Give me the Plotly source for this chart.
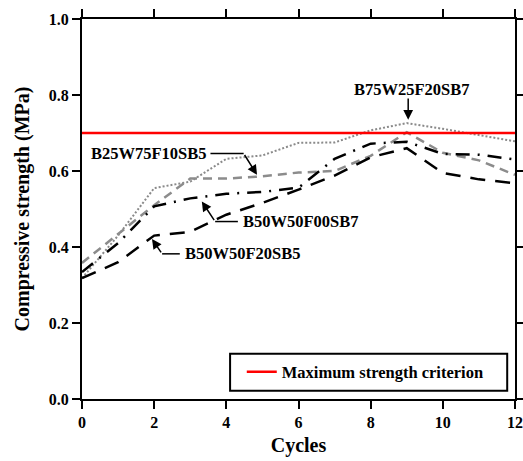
import plotly.graph_objects as go

# cycles and compressive strength (MPa)
cycles = [0, 1, 2, 3, 4, 5, 6, 7, 8, 9, 10, 11, 12]
b75w25f20sb7 = [0.318, 0.430, 0.555, 0.572, 0.632, 0.641, 0.674, 0.675, 0.707, 0.726, 0.711, 0.695, 0.678]
b25w75f10sb5 = [0.358, 0.435, 0.510, 0.580, 0.580, 0.586, 0.596, 0.600, 0.640, 0.702, 0.648, 0.628, 0.590]
b50w50f00sb7 = [0.334, 0.410, 0.507, 0.528, 0.540, 0.545, 0.556, 0.632, 0.672, 0.677, 0.645, 0.643, 0.630]
b50w50f20sb5 = [0.318, 0.360, 0.430, 0.440, 0.485, 0.516, 0.551, 0.588, 0.636, 0.660, 0.595, 0.578, 0.568]
criterion_x = [0, 12]
criterion_y = [0.7, 0.7]

FONT = "Liberation Serif, Times New Roman, serif"

fig = go.Figure()

fig.add_trace(go.Scatter(x=cycles, y=b75w25f20sb7, mode="lines", showlegend=False,
                         line=dict(color="#8a8a8a", width=2, dash="2px,2px")))
fig.add_trace(go.Scatter(x=cycles, y=b25w75f10sb5, mode="lines", showlegend=False,
                         line=dict(color="#8c8c8c", width=2.5, dash="9px,6px")))
fig.add_trace(go.Scatter(x=cycles, y=b50w50f00sb7, mode="lines", showlegend=False,
                         line=dict(color="black", width=2.5, dash="14px,8px,2px,8px")))
fig.add_trace(go.Scatter(x=cycles, y=b50w50f20sb5, mode="lines", showlegend=False,
                         line=dict(color="black", width=2.5, dash="15px,10px")))
fig.add_trace(go.Scatter(x=criterion_x, y=criterion_y, mode="lines",
                         name="<b>Maximum strength criterion</b>",
                         line=dict(color="#ff0000", width=2.5)))

# labels with bent leader lines
labels = [
    # text, text x, text y, anchor, leader start x, leader bend x, head x, head y
    ("B25W75F10SB5", 3.52, 0.646, "right", 3.56, 4.48, 4.85, 0.59),
    ("B50W50F00SB7", 4.40, 0.467, "left", 4.32, 3.69, 3.32, 0.52),
    ("B50W50F20SB5", 2.79, 0.382, "left", 2.71, 2.22, 1.94, 0.421),
]
for text, tx, ty, anchor, lx0, lx1, hx, hy in labels:
    fig.add_annotation(x=tx, y=ty, text="<b>" + text + "</b>", showarrow=False, xanchor=anchor,
                       font=dict(family=FONT, size=16.5, color="black"))
    fig.add_shape(type="line", x0=lx0, x1=lx1, y0=ty, y1=ty,
                  line=dict(color="black", width=1.5))
    fig.add_annotation(x=hx, y=hy, ax=lx1, ay=ty, axref="x", ayref="y", text="",
                       showarrow=True, arrowhead=2, arrowsize=1.3, arrowwidth=1.5,
                       arrowcolor="black")

fig.add_annotation(x=9.14, y=0.814, text="<b>B75W25F20SB7</b>", showarrow=False,
                   font=dict(family=FONT, size=16.5, color="black"))
fig.add_annotation(x=9.04, y=0.735, ax=9.04, ay=0.795, axref="x", ayref="y", text="",
                   showarrow=True, arrowhead=2, arrowsize=1.3, arrowwidth=1.5,
                   arrowcolor="black")

# legend frame
fig.add_shape(type="rect", xref="paper", yref="paper", x0=0.342, x1=0.982, y0=0.022, y1=0.119,
              line=dict(color="black", width=2), fillcolor="white", layer="below")

axis_style = dict(showline=True, linewidth=2, linecolor="black", mirror="ticks",
                  ticks="outside", ticklen=8, tickwidth=2, tickcolor="black",
                  showgrid=False, zeroline=False, automargin=False,
                  tickprefix="<b>", ticksuffix="</b>",
                  tickfont=dict(family=FONT, size=16, color="black"))

fig.update_layout(
    width=523,
    height=461,
    margin=dict(l=82, r=8, t=19, b=62),
    plot_bgcolor="white",
    paper_bgcolor="white",
    font=dict(family=FONT, color="black"),
    xaxis=dict(range=[0, 12], dtick=2,
               title=dict(text="<b>Cycles</b>", font=dict(family=FONT, size=20), standoff=8),
               **axis_style),
    yaxis=dict(range=[0, 1.0], dtick=0.2, tickformat=".1f",
               title=dict(text="<b>Compressive strength (MPa)</b>", font=dict(family=FONT, size=20),
                          standoff=14),
               **axis_style),
    legend=dict(x=0.369, y=0.071, xanchor="left", yanchor="middle",
                borderwidth=0, bgcolor="rgba(0,0,0,0)",
                font=dict(family=FONT, size=16.5, color="black")),
)

# the page body has a default 8px margin; drop it so the figure fills the window exactly
fig.write_html(
    "out.html",
    config={"displayModeBar": False},
    post_script="document.body.style.margin = '0'; document.body.style.overflow = 'hidden';",
)
